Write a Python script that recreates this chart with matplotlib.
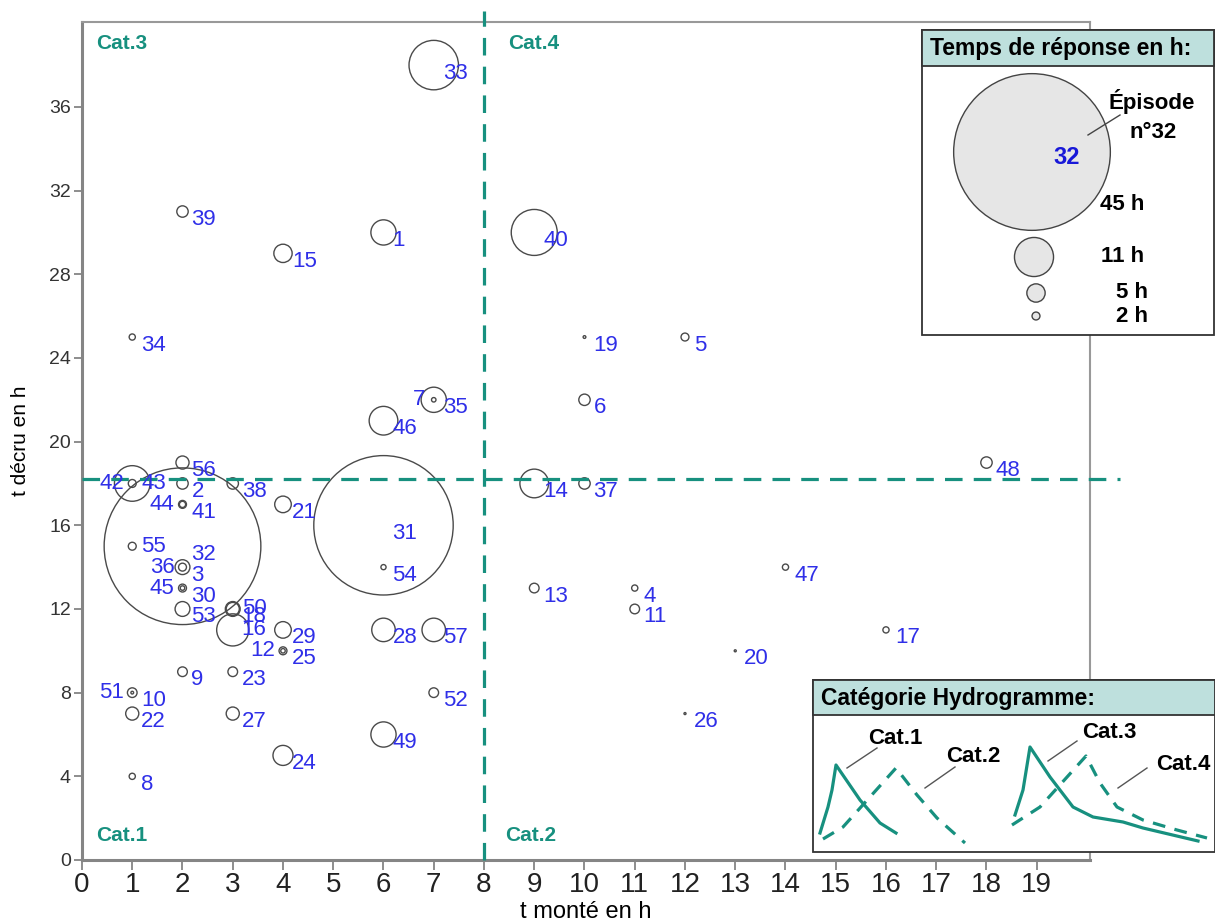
import numpy as np
import matplotlib
matplotlib.use('Agg')
import matplotlib.pyplot as plt
from matplotlib.patches import Rectangle

plt.rcParams['font.family'] = ['Liberation Sans', 'DejaVu Sans']

# ============================================================
# Données : épisodes (t monté, t décru, temps de réponse)
# ============================================================
episodes = [1, 2, 3, 4, 5, 6, 7, 8, 9, 10,
            11, 12, 13, 14, 15, 16, 17, 18, 19, 20,
            21, 22, 23, 24, 25, 26, 27, 28, 29, 30,
            31, 32, 33, 34, 35, 36, 37, 38, 39, 40,
            41, 42, 43, 44, 45, 46, 47, 48, 49, 50,
            51, 52, 53, 54, 55, 56, 57]
t_monte = [6, 2, 2, 11, 12, 10, 7, 1, 2, 1,
           11, 4, 9, 9, 4, 3, 16, 3, 10, 13,
           4, 1, 3, 4, 4, 12, 3, 6, 4, 2,
           6, 2, 7, 1, 7, 2, 10, 3, 2, 9,
           2, 1, 1, 2, 2, 6, 14, 18, 6, 3,
           1, 7, 2, 6, 1, 2, 7]
t_decru = [30, 18, 14, 13, 25, 22, 22, 4, 9, 8,
           12, 10, 13, 18, 29, 11, 11, 12, 25, 10,
           17, 7, 9, 5, 10, 7, 7, 11, 11, 13,
           16, 15, 38, 25, 22, 14, 18, 18, 31, 30,
           17, 18, 18, 17, 13, 21, 14, 19, 6, 12,
           8, 8, 12, 14, 15, 19, 11]
t_reponse = [7, 3, 2, 1.5, 2, 3, 7, 1.5, 2.5, 0.5,
             2.5, 1, 2.5, 8, 5, 9, 1.5, 3.5, 0.5, 0.3,
             4.5, 3.5, 2.5, 5.5, 2, 0.3, 3.5, 6.5, 4.5, 1,
             40, 45, 14, 1.5, 1, 4, 3, 3, 3, 13,
             1.5, 10, 2, 2, 2, 8, 1.5, 3, 7, 4,
             2.5, 2.5, 4, 1.2, 2, 3.5, 6.5]

# étiquettes placées à gauche du cercle
LEFT_LABELS = [7, 12, 36, 42, 44, 45, 51]
# étiquettes centrées verticalement
MID_LABELS = [43, 50, 55, 16]

SEUIL_MONTE = 8
SEUIL_DECRU = 18.2

legend_hours = [45, 11, 5, 2]

# ============================================================
# Style
# ============================================================
W, H, DPI = 1215, 923, 100
PX = 72.0 / DPI            # 1 pixel en points
TEAL = '#17907F'
BLUE = '#2F2FE8'
GREY = '#858585'
NARROW = ['Liberation Sans Narrow', 'Liberation Sans', 'DejaVu Sans']


def bubble_size(h):
    """rayon (px) ~ linéaire avec le temps de réponse -> aire scatter (pt^2)"""
    r_px = 1.73 * np.asarray(h, dtype=float) + 0.5
    return (2 * r_px * PX) ** 2


fig = plt.figure(figsize=(W / DPI, H / DPI), dpi=DPI)
ax = fig.add_axes([82 / W, 1 - 860 / H, (1090 - 82) / W, (860 - 22) / H])

ax.scatter(t_monte, t_decru, s=bubble_size(t_reponse), facecolors='none',
           edgecolors='#4a4a4a', linewidths=1.0, zorder=2)

for ep, x, y in zip(episodes, t_monte, t_decru):
    if ep in LEFT_LABELS:
        dx, dy, ha = -8 * PX, 0, 'right'
    elif ep in MID_LABELS:
        dx, dy, ha = 9 * PX, 0, 'left'
    else:
        dx, dy, ha = 9 * PX, -8 * PX, 'left'
    ax.annotate(str(ep), (x, y), xytext=(dx, dy), textcoords='offset points',
                ha=ha, va='center', color=BLUE, fontsize=16, zorder=5)

# seuils des catégories
ax.plot([0, 20.66], [SEUIL_DECRU, SEUIL_DECRU], color=TEAL, lw=2.3,
        dashes=(5.5, 3.5), clip_on=False, zorder=3)
ax.plot([SEUIL_MONTE, SEUIL_MONTE], [0, 40.6], color=TEAL, lw=2.3,
        dashes=(5.5, 3.5), clip_on=False, zorder=3)

for txt, x, y in [('Cat.3', 0.28, 39.05), ('Cat.4', 8.48, 39.05),
                  ('Cat.1', 0.28, 1.15), ('Cat.2', 8.42, 1.15)]:
    ax.text(x, y, txt, color=TEAL, fontsize=15, fontweight='bold',
            ha='left', va='center')

ax.set_xlim(0, 20.06)
ax.set_ylim(0, 40.06)
ax.set_xticks(np.arange(0, 20))
ax.set_yticks(np.arange(0, 37, 4))
for lab in ax.get_xticklabels():
    lab.set_family(NARROW)
    lab.set_fontsize(20)
ax.tick_params(axis='x', length=7, width=1.3, color=GREY, pad=2, labelcolor='#222')
ax.tick_params(axis='y', length=6, width=1.3, color=GREY, pad=2,
               labelsize=14, labelcolor='#333')
ax.set_xlabel('t monté en h', family=NARROW, fontsize=17, labelpad=2)
ax.set_ylabel('t décru en h', family=NARROW, fontsize=15, labelpad=14)

for side in ['left', 'bottom']:
    ax.spines[side].set_linewidth(2.2)
    ax.spines[side].set_color(GREY)
for side in ['top', 'right']:
    ax.spines[side].set_linewidth(1.5)
    ax.spines[side].set_color('#999999')


# ============================================================
# Encadrés de légende (coordonnées locales en pixels)
# ============================================================
def legend_box(x0, y0, w, h, header_h, title):
    lax = fig.add_axes([x0 / W, 1 - (y0 + h) / H, w / W, h / H])
    lax.set_xlim(0, w)
    lax.set_ylim(h, 0)
    lax.axis('off')
    lax.add_patch(Rectangle((0, 0), w, h, facecolor='white', edgecolor='#333',
                            lw=1.3, clip_on=False))
    lax.add_patch(Rectangle((0, 0), w, header_h, facecolor='#BEE0DD',
                            edgecolor='#333', lw=1.3, clip_on=False))
    lax.text(8, header_h / 2 + 1, title, fontsize=16.5, fontweight='bold',
             ha='left', va='center')
    return lax


# Temps de réponse
lax1 = legend_box(922, 30, 292, 305, 36, 'Temps de réponse en h:')
leg_x = [110, 112, 114, 114]
leg_y = [122, 227, 263, 286]
lax1.scatter(leg_x, leg_y, s=bubble_size(legend_hours), facecolors='#E6E6E6',
             edgecolors='#444', linewidths=1.0, zorder=2)
lax1.text(145, 128, '32', color='#1818D8', fontsize=17, fontweight='bold',
          ha='center', va='center')
lax1.plot([166, 198], [105, 85], color='#444', lw=1.0)
lax1.text(230, 72, 'Épisode', fontsize=16, fontweight='bold', ha='center', va='center')
lax1.text(231, 102, 'n°32', fontsize=16, fontweight='bold', ha='center', va='center')
for txt, x, y in [('45 h', 200, 175), ('11 h', 201, 227),
                  ('5 h', 210, 262), ('2 h', 210, 287)]:
    lax1.text(x, y, txt, fontsize=16, fontweight='bold', ha='center', va='center')

# Catégorie hydrogramme
lax2 = legend_box(813, 680, 402, 172, 35, 'Catégorie Hydrogramme:')
cat1_x = [7, 15, 19, 23, 47, 67, 83]
cat1_y = [153, 127, 110, 85, 120, 143, 153]
cat2_x = [10, 30, 83, 104, 124, 152]
cat2_y = [159, 147, 88, 115, 138, 163]
cat3_x = [202, 210, 217, 237, 260, 280, 310, 330, 385]
cat3_y = [135, 110, 67, 97, 127, 137, 142, 148, 161]
cat4_x = [199, 227, 273, 287, 304, 330, 364, 394]
cat4_y = [145, 127, 76, 103, 127, 140, 150, 158]
lax2.plot(cat1_x, cat1_y, color=TEAL, lw=2.3)
lax2.plot(cat2_x, cat2_y, color=TEAL, lw=2.3, dashes=(4, 3))
lax2.plot(cat3_x, cat3_y, color=TEAL, lw=2.3)
lax2.plot(cat4_x, cat4_y, color=TEAL, lw=2.3, dashes=(4, 3))
for txt, x, y, lx, ly in [('Cat.1', 82, 58, [34, 64], [88, 68]),
                          ('Cat.2', 160, 77, [112, 142], [108, 87]),
                          ('Cat.3', 296, 53, [235, 264], [81, 61]),
                          ('Cat.4', 370, 85, [305, 334], [108, 88])]:
    lax2.text(x, y, txt, fontsize=16, fontweight='bold', ha='center', va='center')
    lax2.plot(lx, ly, color='#555', lw=1.0)

fig.savefig('out.png', dpi=DPI)
